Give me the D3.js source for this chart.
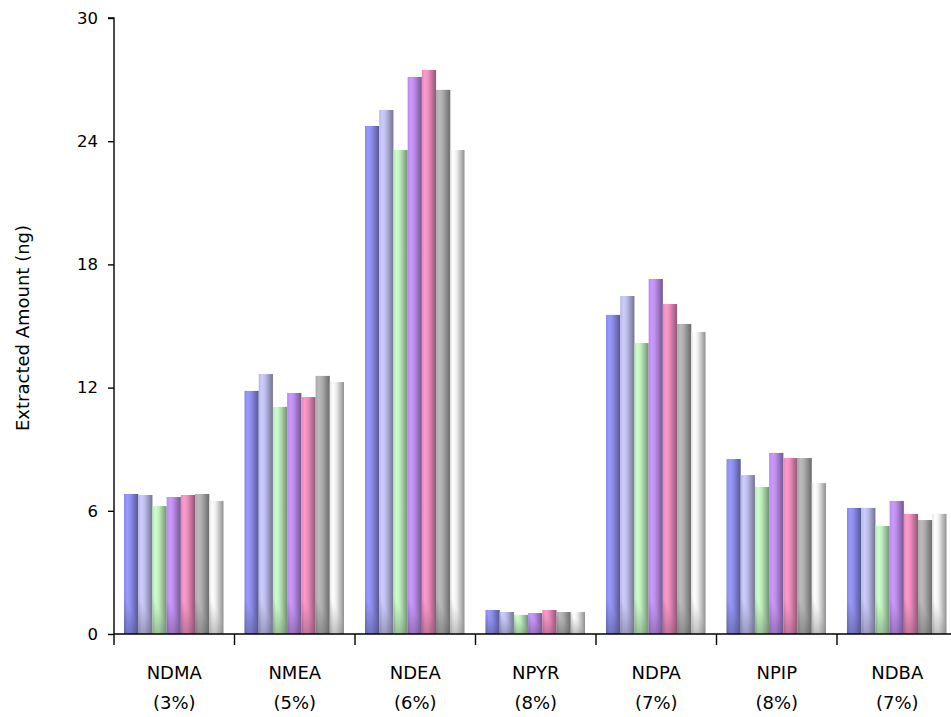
<!DOCTYPE html>
<html>
<head>
<meta charset="utf-8">
<script src="https://d3js.org/d3.v7.min.js"></script>
<style type="text/css">
  body { margin: 0; background: #fff; }
  #chart text { font-family: "DejaVu Sans", sans-serif; fill: #000; }
</style>
</head>
<body>
<svg id="chart" width="951" height="717"></svg>
<script>

// categories (two-line labels) and the seven series per category
const compounds = ['NDMA', 'NMEA', 'NDEA', 'NPYR', 'NDPA', 'NPIP', 'NDBA'];
const rsd = ['(3%)', '(5%)', '(6%)', '(8%)', '(7%)', '(8%)', '(7%)'];
const series = ['s1', 's2', 's3', 's4', 's5', 's6', 's7'];
const colors = ['#9999ff', '#ccccff', '#ccffcc', '#cc99ff', '#ff99cc', '#bbbbbb', '#ffffff'];

const s1 = [6.82, 11.84, 24.74, 1.17, 15.54, 8.52, 6.14];
const s2 = [6.77, 12.66, 25.52, 1.07, 16.46, 7.74, 6.14];
const s3 = [6.23, 11.06, 23.57, 0.93, 14.17, 7.16, 5.26];
const s4 = [6.67, 11.74, 27.13, 1.02, 17.29, 8.82, 6.48];
const s5 = [6.77, 11.54, 27.47, 1.17, 16.07, 8.57, 5.85];
const s6 = [6.82, 12.57, 26.50, 1.07, 15.10, 8.57, 5.55];
const s7 = [6.48, 12.27, 23.57, 1.07, 14.71, 7.35, 5.85];
const values = [s1, s2, s3, s4, s5, s6, s7];

const yTicks = [0, 6, 12, 18, 24, 30];

const chart = d3.select('#chart');
const margin = { top: 18, left: 114, bottom: 83 };
const height = 717 - margin.top - margin.bottom;
const catWidth = 120.5;

const x = d3.scaleBand()
  .domain(compounds)
  .range([0, catWidth * compounds.length]);

const xs = d3.scaleBand()
  .domain(series)
  .range([10, catWidth - 11]);

const y = d3.scaleLinear().domain([0, 30]).range([height, 0]);

// bar shading: light near the left edge, darker to the right
const defs = chart.append('defs');
colors.forEach((c, i) => {
  const g = defs.append('linearGradient')
    .attr('id', 'grad' + i)
    .attr('x1', 0).attr('y1', 0).attr('x2', 1).attr('y2', 0);
  const base = d3.color(c);
  g.append('stop').attr('offset', 0).attr('stop-color', base.darker(0.3));
  g.append('stop').attr('offset', 0.22).attr('stop-color', base);
  g.append('stop').attr('offset', 0.45).attr('stop-color', base.darker(0.2));
  g.append('stop').attr('offset', 1).attr('stop-color', base.darker(1.6));
});
// darker corner at the foot of each bar
const shade = defs.append('linearGradient')
  .attr('id', 'shade')
  .attr('x1', 0).attr('y1', 1).attr('x2', 0.8).attr('y2', 0);
shade.append('stop').attr('offset', 0).attr('stop-color', '#000').attr('stop-opacity', 0.3);
shade.append('stop').attr('offset', 0.6).attr('stop-color', '#000').attr('stop-opacity', 0);

const inner = chart.append('g')
  .attr('transform', `translate(${margin.left} ${margin.top})`);

const groups = inner.selectAll('.cat')
  .data(compounds)
  .enter().append('g')
  .attr('transform', d => `translate(${x(d)} 0)`);

const bars = groups.selectAll('g')
  .data((d, ci) => series.map((s, si) => ({ s: s, si: si, v: values[si][ci] })))
  .enter().append('g');

bars.append('rect')
  .attr('x', d => xs(d.s))
  .attr('y', d => y(d.v))
  .attr('width', xs.bandwidth())
  .attr('height', d => height - y(d.v))
  .attr('fill', d => `url(#grad${d.si})`);

bars.append('rect')
  .attr('x', d => xs(d.s))
  .attr('y', d => height - Math.min(40, height - y(d.v)))
  .attr('width', xs.bandwidth())
  .attr('height', d => Math.min(40, height - y(d.v)))
  .attr('fill', 'url(#shade)');

// y axis
const yAxis = inner.append('g')
  .call(d3.axisLeft(y).tickValues(yTicks).tickSize(6).tickPadding(10));
yAxis.select('.domain').attr('stroke', '#000').attr('stroke-width', 1.4)
  .attr('d', `M-6,0H0V${height}`);
yAxis.selectAll('.tick line').attr('stroke', '#000').attr('stroke-width', 1.4);
yAxis.selectAll('.tick text').style('font-size', '16.5px');

// x axis: ticks at category boundaries
const xAxis = inner.append('g').attr('transform', `translate(0 ${height})`);
xAxis.append('line')
  .attr('x1', 0).attr('x2', x.range()[1])
  .attr('stroke', '#000').attr('stroke-width', 1.4);
xAxis.selectAll('.bt')
  .data(compounds)
  .enter().append('line')
  .attr('x1', d => x(d)).attr('x2', d => x(d))
  .attr('y1', 0).attr('y2', 11)
  .attr('stroke', '#000').attr('stroke-width', 1.4);

const labels = xAxis.selectAll('.lbl')
  .data(compounds)
  .enter().append('text')
  .attr('text-anchor', 'middle')
  .attr('x', d => x(d) + x.bandwidth() / 2)
  .style('font-size', '18px');
labels.append('tspan').attr('y', 45).text(d => d);
labels.append('tspan').attr('y', 75)
  .attr('x', d => x(d) + x.bandwidth() / 2)
  .text((d, i) => rsd[i]);

chart.append('text')
  .attr('transform', `translate(29 ${margin.top + height / 2 + 2}) rotate(-90)`)
  .attr('text-anchor', 'middle')
  .style('font-size', '18px')
  .text('Extracted Amount (ng)');

</script>
</body>
</html>
